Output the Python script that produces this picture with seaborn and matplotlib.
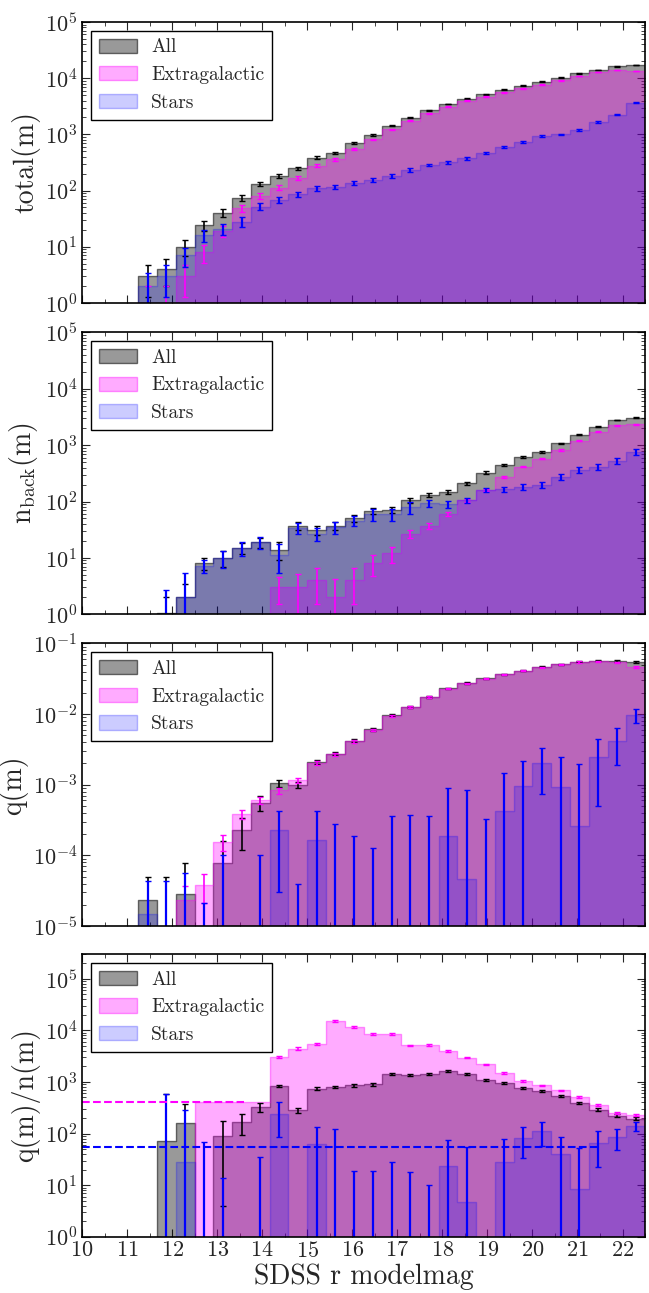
import numpy as np
import pandas as pd
import seaborn as sns
import matplotlib.pyplot as plt
from matplotlib.colors import to_rgba

# bins in SDSS r modelmag
edges = np.linspace(10, 22.5, 31)
centers = 0.5 * (edges[:-1] + edges[1:])

# total(m)
tot_all = [0, 0, 0, 3, 4, 10, 24, 40, 75, 132, 181, 250, 385, 470, 695, 980, 1430, 1990, 2700, 3460,
           4310, 5130, 6230, 7360, 8700, 10200, 12200, 14100, 16200, 17200]
tot_ext = [0, 0, 0, 1, 1, 3, 8, 19, 48, 80, 113, 170, 277, 360, 550, 815, 1230, 1740, 2370, 3100,
           3980, 4700, 5620, 6600, 7670, 9140, 10900, 13000, 14000, 13500]
tot_star = [0, 0, 0, 2, 3, 7, 16, 21, 28, 52, 68, 86, 110, 117, 138, 155, 184, 233, 285, 318,
            375, 460, 605, 740, 935, 1000, 1200, 1660, 2230, 3660]

# n_back(m)
nb_all = [0, 0, 0, 0, 1.05, 2, 8, 10, 15, 19, 14, 37, 31, 37, 50, 68, 71, 106, 130, 150,
          210, 324, 444, 622, 764, 1075, 1520, 2120, 2790, 3060]
nb_ext = [0, 0, 0, 0, 0, 0, 0, 0, 0, 0, 3, 3, 4, 2, 4, 8, 12, 27, 37, 60,
          105, 160, 275, 414, 575, 819, 1200, 1730, 2240, 2340]
nb_star = [0, 0, 0, 0, 1, 2, 7.3, 10, 15, 19, 11.3, 34, 27, 35, 46, 60, 60, 80, 93, 90,
           105, 160, 164, 183, 196, 275, 362, 414, 528, 764]
nb_all_err = [0, 0, 0, 0, 1, 1.5, 2, 3, 3.5, 4, 5, 6, 6, 6, 7, 8, 9, 11, 12, 13,
              15, 18, 20, 24, 27, 32, 38, 45, 52, 55]
nb_ext_err = [0, 0, 0, 0, 0, 0, 0, 0, 0, 0, 1.5, 2.2, 2.5, 2.3, 2.5, 3.3, 3.8, 4.5, 4, 5,
              6, 8, 10, 12, 15, 20, 25, 30, 35, 40]
nb_star_err = [0, 0, 0, 0, 1.7, 3.3, 1.8, 3.5, 4, 4.5, 6, 8, 7, 8, 9, 14, 15, 20, 12, 14,
               12, 12, 14, 20, 22, 30, 40, 50, 60, 85]

# q(m)
q_all = [0, 0, 0, 2.3e-5, 0, 2.8e-5, 0, 7.9e-5, 2.3e-4, 5.6e-4, 1.05e-3, 9.9e-4, 2.1e-3, 2.75e-3,
         4.2e-3, 6.05e-3, 9.6e-3, 1.26e-2, 1.75e-2, 2.3e-2, 2.75e-2, 3.2e-2, 3.66e-2, 4.1e-2,
         4.65e-2, 5.1e-2, 5.5e-2, 5.66e-2, 5.6e-2, 5.5e-2]
q_ext = [0, 0, 0, 0, 0, 2.3e-5, 3.8e-5, 1.55e-4, 3.85e-4, 6.0e-4, 8.3e-4, 1.16e-3, 2.05e-3, 2.7e-3,
         4.1e-3, 6.0e-3, 9.5e-3, 1.25e-2, 1.74e-2, 2.28e-2, 2.72e-2, 3.18e-2, 3.63e-2, 4.07e-2,
         4.62e-2, 5.05e-2, 5.45e-2, 5.6e-2, 5.4e-2, 4.65e-2]
q_star = [0, 0, 0, 1.5e-5, 0, 0, 0, 0, 0, 0, 2.3e-4, 0, 1.65e-4, 0, 0, 0, 0, 0, 0, 1.9e-4,
          4.6e-5, 0, 4.2e-4, 9.6e-4, 2.04e-3, 9.3e-4, 2.6e-4, 2.5e-3, 4.1e-3, 9.6e-3]
q_all_err = [0, 0, 0, 2.7e-5, 5e-5, 5e-5, 0, 8e-5, 1.1e-4, 1.3e-4, 1.1e-4, 1e-4, 1.4e-4, 1.5e-4,
             2e-4, 2.5e-4, 3e-4, 3.5e-4, 4e-4, 4.5e-4, 5e-4, 5e-4, 6e-4, 7e-4, 8e-4, 9e-4,
             1e-3, 1e-3, 1.5e-3, 1.5e-3]
q_ext_err = [0, 0, 0, 0, 0, 1.4e-5, 1.7e-5, 4e-5, 6e-5, 7e-5, 8e-5, 1e-4, 1.3e-4, 1.4e-4,
             1.8e-4, 2.3e-4, 2.8e-4, 3.3e-4, 3.8e-4, 4.3e-4, 4.8e-4, 5e-4, 5.5e-4, 6.5e-4,
             7.5e-4, 8.5e-4, 9.5e-4, 1e-3, 1.4e-3, 1.4e-3]
q_star_err = [0, 0, 0, 2.9e-5, 4.4e-5, 5.6e-5, 2.1e-5, 1e-4, 0, 1e-4, 2e-4, 3.9e-5, 2.6e-4, 2.8e-4,
              1.9e-4, 1.26e-4, 3.6e-4, 3.7e-4, 3.6e-4, 7.2e-4, 8e-4, 3.3e-4, 1.06e-3, 1.2e-3,
              1.3e-3, 1.5e-3, 1.7e-3, 2e-3, 2.2e-3, 2.2e-3]

# q(m)/n(m)
r_all = [0, 0, 0, 0, 72, 160, 0, 89, 168, 327, 822, 282, 740, 800, 860, 900, 1400, 1340, 1450, 1650,
         1450, 1075, 950, 765, 667, 527, 390, 291, 223, 195]
r_ext = [0, 0, 0, 0, 0, 0, 408, 408, 408, 408, 3020, 4400, 5500, 15000, 11500, 8600, 8600, 5100,
         5200, 4000, 2950, 2190, 1490, 1040, 860, 688, 510, 352, 251, 226]
r_star = [0, 0, 0, 0, 0, 28, 0, 0, 0, 0, 244, 0, 64, 0, 0, 0, 0, 0, 0, 23.6,
          4.75, 0, 27.5, 83.5, 112, 40, 8.6, 67, 86, 138]
r_all_err = [0, 0, 0, 0, 520, 220, 0, 85, 75, 60, 40, 30, 50, 50, 50, 50, 60, 60, 60, 65,
             60, 45, 40, 35, 30, 25, 20, 15, 12, 10]
r_ext_err = [0, 0, 0, 0, 0, 0, 0, 0, 0, 0, 150, 250, 300, 600, 400, 300, 300, 200, 200, 150,
             100, 80, 60, 40, 30, 25, 20, 15, 10, 10]
r_star_err = [0, 0, 0, 0, 590, 255, 69, 13.5, 0, 35, 158, 0, 70, 125, 18.7, 19, 27.5, 18, 10, 50,
              50, 0, 50, 50, 55, 46, 45, 45, 38, 26]

# dashed reference levels in the last panel
ref_levels = [410, 55]
ref_xend = [13.6, 21.5]
ref_colors = ["magenta", "blue"]

sns.set_style("ticks")
plt.rcParams["font.family"] = ["cmr10", "DejaVu Serif"]
plt.rcParams["mathtext.fontset"] = "cm"
plt.rcParams["axes.unicode_minus"] = False
plt.rcParams["axes.formatter.use_mathtext"] = True

# label, colour, fill alpha, edge alpha
series_style = [("All", "k", 0.4, 0.55), ("Extragalactic", "magenta", 0.33, 0.4),
                ("Stars", "blue", 0.2, 0.25)]


def draw_panel(ax, values, errors, ylim, ylabel):
    for (label, color, alpha, ealpha), vals in zip(series_style, values):
        df = pd.DataFrame({"mag": centers, "w": np.asarray(vals, dtype=float)})
        sns.histplot(data=df, x="mag", weights="w", bins=list(edges), element="step", fill=True,
                     facecolor=to_rgba(color, alpha), edgecolor=to_rgba(color, ealpha),
                     linewidth=1, label=label, ax=ax)
    for (label, color, alpha, ealpha), vals, err in zip(series_style, values, errors):
        vals = np.asarray(vals, dtype=float)
        err = np.asarray(err, dtype=float)
        m = err > 0
        ax.errorbar(centers[m], vals[m], yerr=err[m], fmt="none", ecolor=color,
                    elinewidth=1.6 if color == "blue" else 1.2, capsize=2.5, capthick=1)
    ax.set_yscale("log")
    ax.set_ylim(*ylim)
    ax.set_xlim(10, 22.5)
    ax.set_ylabel(ylabel, fontsize=20, labelpad=3)
    ax.set_xlabel("")
    ax.tick_params(which="both", direction="in", top=True, right=True, labelsize=16)
    ax.tick_params(which="major", length=6)
    ax.tick_params(which="minor", length=3)
    ax.tick_params(axis="x", pad=3)
    ax.set_xticks(np.arange(10, 23, 1))
    ax.set_xticks(np.arange(10, 22.6, 0.5), minor=True)
    for s in ax.spines.values():
        s.set_color("k")
        s.set_linewidth(1.2)
    ax.legend(loc="upper left", fancybox=False, edgecolor="k", framealpha=1, fontsize=14,
              handlelength=2.0, handleheight=0.75, handletextpad=0.7, borderaxespad=0.45)


fig = plt.figure(figsize=(6.49, 12.93), dpi=100)
left, width = 0.1264, 0.8675
ax1 = fig.add_axes([left, 0.7657, width, 0.2173])
ax2 = fig.add_axes([left, 0.5249, width, 0.2181])
ax3 = fig.add_axes([left, 0.2838, width, 0.2186])
ax4 = fig.add_axes([left, 0.0435, width, 0.2186])

tot_errs = [np.sqrt(tot_all), np.sqrt(tot_ext), np.sqrt(tot_star)]
draw_panel(ax1, [tot_all, tot_ext, tot_star], tot_errs, (1, 1e5), "total(m)")
draw_panel(ax2, [nb_all, nb_ext, nb_star], [nb_all_err, nb_ext_err, nb_star_err], (1, 1e5),
           r"n$_{\mathrm{back}}$(m)")
draw_panel(ax3, [q_all, q_ext, q_star], [q_all_err, q_ext_err, q_star_err], (1e-5, 1e-1), "q(m)")
draw_panel(ax4, [r_all, r_ext, r_star], [r_all_err, r_ext_err, r_star_err], (1, 3e5), "q(m)/n(m)")

for lvl, xe, c in zip(ref_levels, ref_xend, ref_colors):
    ax4.plot([10, xe], [lvl, lvl], ls="--", color=c, lw=1.5)

for ax in (ax1, ax2, ax3):
    ax.tick_params(labelbottom=False)
ax4.set_xlabel("SDSS r modelmag", fontsize=20, labelpad=2)

fig.savefig("out.png", dpi=100)
